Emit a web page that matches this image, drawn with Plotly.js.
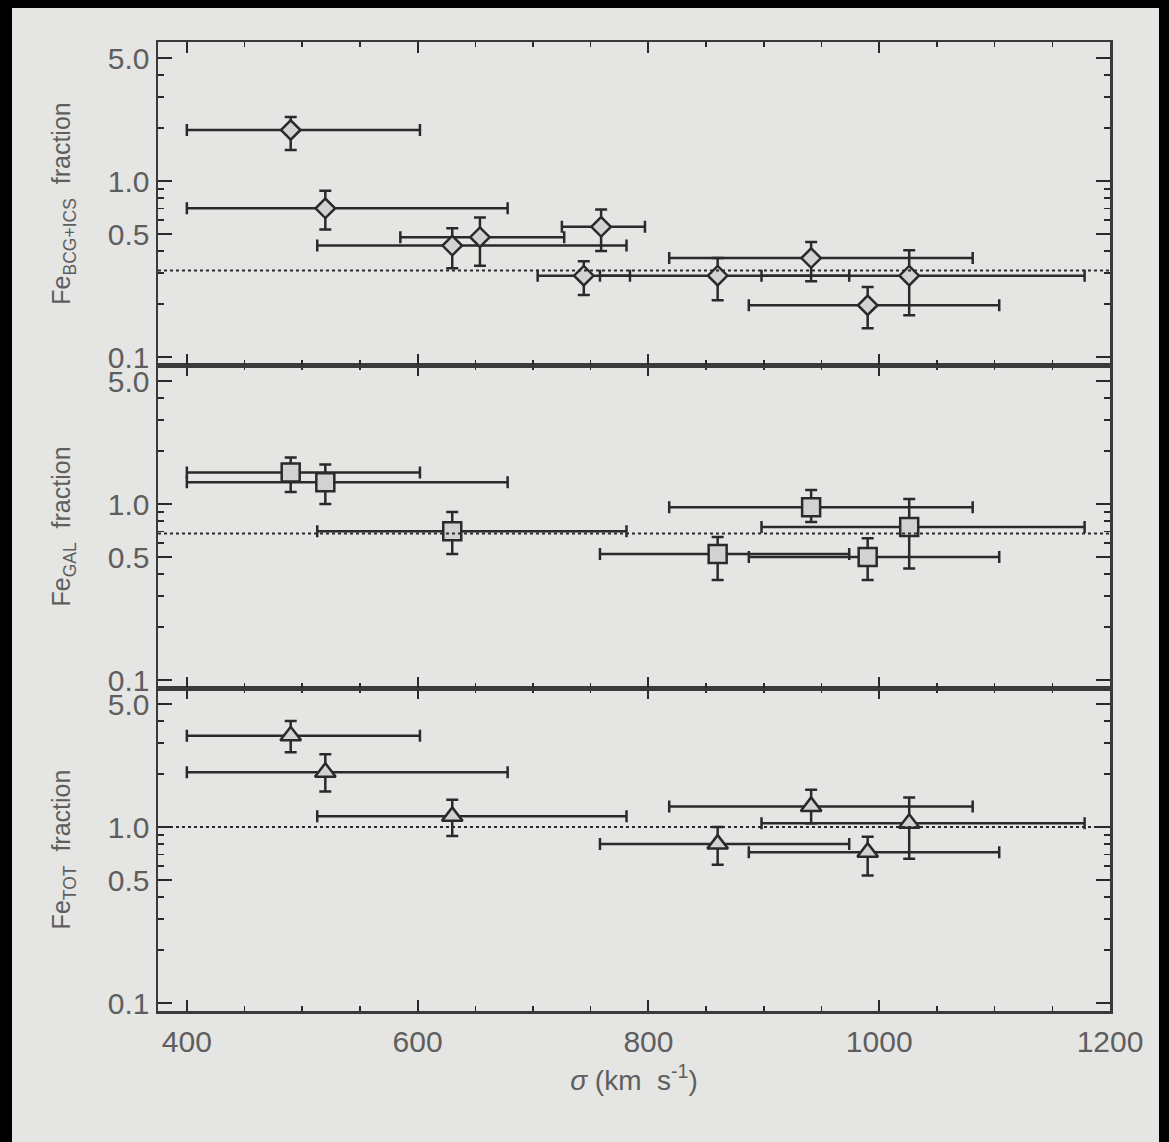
<!DOCTYPE html>
<html>
<head>
<meta charset="utf-8">
<script src="https://cdn.plot.ly/plotly-3.0.1.min.js"></script>
<style>
  html, body { margin: 0; padding: 0; background: #000; width: 1169px; height: 1142px; overflow: hidden; }
  #chart { position: absolute; left: 12px; top: 8px; width: 1147px; height: 1134px; }
</style>
</head>
<body>
<div id="chart"></div>
<script>
// ---- Data ----
// Top panel: Fe(BCG+ICS) fraction
const sigmaTop   = [490, 520, 630, 654, 744, 759, 860, 941, 990, 1026];
const sigmaTopLo = [400, 400, 513, 585, 704, 725, 758, 818, 887, 898];
const sigmaTopHi = [602, 678, 781, 727, 784, 797, 974, 1081, 1104, 1178];
const feBcgIcs   = [1.95, 0.70, 0.43, 0.48, 0.29, 0.55, 0.29, 0.365, 0.197, 0.29];
const feBcgIcsLo = [1.50, 0.53, 0.32, 0.33, 0.225, 0.40, 0.21, 0.27, 0.146, 0.173];
const feBcgIcsHi = [2.31, 0.88, 0.54, 0.62, 0.35, 0.69, 0.365, 0.45, 0.25, 0.405];

// Middle and bottom panels share the cluster sample
const sigma   = [490, 520, 630, 860, 941, 990, 1026];
const sigmaLo = [400, 400, 513, 758, 818, 887, 898];
const sigmaHi = [602, 678, 781, 974, 1081, 1104, 1178];

const feGal   = [1.51, 1.33, 0.70, 0.52, 0.96, 0.50, 0.74];
const feGalLo = [1.17, 1.00, 0.52, 0.37, 0.79, 0.37, 0.43];
const feGalHi = [1.84, 1.68, 0.90, 0.65, 1.20, 0.64, 1.07];

const feTot   = [3.30, 2.05, 1.15, 0.80, 1.31, 0.72, 1.05];
const feTotLo = [2.66, 1.59, 0.89, 0.61, 1.05, 0.53, 0.66];
const feTotHi = [4.00, 2.59, 1.43, 1.00, 1.63, 0.88, 1.47];

// Mean levels (dotted lines): top, middle, bottom
const meanLevels = [0.31, 0.68, 1.0];

const yTickVals = [0.1, 0.5, 1, 5];
const yTickText = ['0.1', '0.5', '1.0', '5.0'];
const yMinorVals = [0.2, 0.3, 0.4, 0.6, 0.7, 0.8, 0.9, 2, 3, 4];
const xTickVals = [400, 600, 800, 1000, 1200];

// ---- Styling ----
const BG = '#e5e5e3';
const INK = '#2a2a2a';
const TXT = '#5e5e5e';
const FONT = 'Liberation Sans, Arial, Helvetica, sans-serif';

function diff(a, b) { return a.map((v, i) => v - b[i]); }

function panelTrace(x, xlo, xhi, y, ylo, yhi, symbol, size, xa, ya) {
  return {
    type: 'scatter', mode: 'markers',
    x: x, y: y, xaxis: xa, yaxis: ya,
    marker: { symbol: symbol, size: size, color: '#d2d2d0', line: { color: INK, width: 2.5 } },
    error_x: { type: 'data', symmetric: false, array: diff(xhi, x), arrayminus: diff(x, xlo),
               color: INK, thickness: 2.5, width: 6 },
    error_y: { type: 'data', symmetric: false, array: diff(yhi, y), arrayminus: diff(y, ylo),
               color: INK, thickness: 2.5, width: 6 },
    showlegend: false, hoverinfo: 'x+y'
  };
}

const data = [
  panelTrace(sigmaTop, sigmaTopLo, sigmaTopHi, feBcgIcs, feBcgIcsLo, feBcgIcsHi, 'diamond', 15, 'x3', 'y3'),
  panelTrace(sigma, sigmaLo, sigmaHi, feGal, feGalLo, feGalHi, 'square', 18, 'x2', 'y2'),
  panelTrace(sigma, sigmaLo, sigmaHi, feTot, feTotLo, feTotHi, 'triangle-up', 18, 'x', 'y')
];

const X_RANGE = [375, 1200];
const Y_RANGE = [-1.045, 0.79];

function xAxis(anchor, showLabels, withTitle) {
  const ax = {
    anchor: anchor, domain: [0, 1], range: X_RANGE,
    tickmode: 'array', tickvals: xTickVals,
    ticks: 'inside', ticklen: 11, tickwidth: 2, tickcolor: INK,
    minor: { dtick: 50, tick0: 400, ticks: 'inside', ticklen: 5, tickwidth: 1.5, tickcolor: INK },
    showline: true, linecolor: '#3a3a3a', linewidth: 2.5, mirror: 'ticks',
    showgrid: false, zeroline: false,
    showticklabels: showLabels,
    tickfont: { family: FONT, size: 30, color: TXT },
    ticklabelstandoff: 2
  };
  if (withTitle) {
    ax.title = { text: '<i>σ</i> (km  s<sup>-1</sup>)', font: { family: FONT, size: 28, color: TXT }, standoff: 14 };
  }
  return ax;
}

function yAxis(anchor, domain, titleText) {
  return {
    anchor: anchor, domain: domain, type: 'log', range: Y_RANGE,
    tickmode: 'array', tickvals: yTickVals, ticktext: yTickText,
    ticks: 'inside', ticklen: 14, tickwidth: 2, tickcolor: INK,
    minor: { tickmode: 'array', tickvals: yMinorVals, ticks: 'inside', ticklen: 6, tickwidth: 1.5, tickcolor: INK },
    showline: true, linecolor: '#3a3a3a', linewidth: 2.5, mirror: 'ticks',
    showgrid: false, zeroline: false,
    tickfont: { family: FONT, size: 30, color: TXT },
    title: { text: titleText, font: { family: FONT, size: 25, color: TXT }, standoff: 30 }
  };
}

const shapes = [
  { type: 'line', xref: 'x3 domain', yref: 'y3', x0: 0, x1: 1, y0: meanLevels[0], y1: meanLevels[0],
    line: { color: INK, width: 2, dash: 'dot' } },
  { type: 'line', xref: 'x2 domain', yref: 'y2', x0: 0, x1: 1, y0: meanLevels[1], y1: meanLevels[1],
    line: { color: INK, width: 2, dash: 'dot' } },
  { type: 'line', xref: 'x domain', yref: 'y', x0: 0, x1: 1, y0: meanLevels[2], y1: meanLevels[2],
    line: { color: INK, width: 2, dash: 'dot' } }
];

const layout = {
  width: 1147, height: 1134,
  margin: { l: 146, r: 49, t: 34, b: 131 },
  paper_bgcolor: BG, plot_bgcolor: BG,
  font: { family: FONT, color: TXT },
  showlegend: false,
  xaxis: xAxis('y', true, true),
  xaxis2: xAxis('y2', false, false),
  xaxis3: xAxis('y3', false, false),
  yaxis: yAxis('x', [0, 1/3], 'Fe<sub>TOT</sub>  fraction'),
  yaxis2: yAxis('x2', [1/3, 2/3], 'Fe<sub>GAL</sub>  fraction'),
  yaxis3: yAxis('x3', [2/3, 1], 'Fe<sub>BCG+ICS</sub>  fraction'),
  shapes: shapes
};

Plotly.newPlot('chart', data, layout, { displayModeBar: false, staticPlot: true });
</script>
</body>
</html>
